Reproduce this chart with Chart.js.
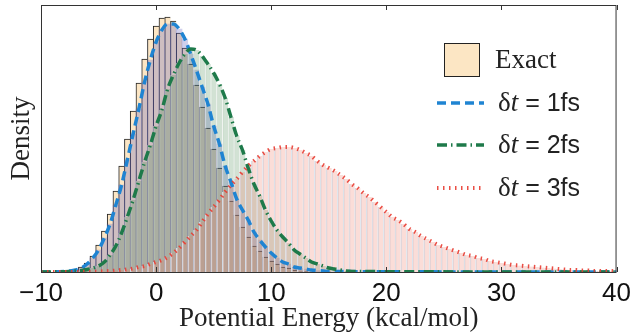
<!DOCTYPE html>
<html>
<head>
<meta charset="utf-8">
<script src="https://cdn.jsdelivr.net/npm/chart.js@4"></script>
<style>
  html, body { margin: 0; padding: 0; background: #fff; }
</style>
</head>
<body>
<canvas id="histChart" width="637" height="334"></canvas>
<script>
// histogram bins are 0.5 kcal/mol wide, heights are in arbitrary density units
const binWidth = 0.5;

const exactStart = -8;
const exactHeights = [0.5, 1, 2, 5, 9, 16, 27, 41, 58, 81, 106, 133, 161, 189, 213, 233, 246, 254, 255, 251,
  239, 224, 208, 187, 165, 144, 123, 104, 86, 71, 57, 45, 35, 26, 21, 15, 11, 8, 5, 4, 2, 1, 0.5];

const dt1Start = -8;
const dt1Heights = [0.5, 1, 2, 4, 8, 14, 22, 34, 48, 67, 87, 112, 138, 163, 190, 212, 230, 242, 248, 248,
  243, 233, 218, 202, 185, 168, 146, 128, 106, 90, 73, 62, 52, 40, 32, 25, 19, 14, 10, 8, 5, 4, 3, 2, 1.5, 1, 0.5];

const dt2Start = -8;
const dt2Heights = [0.3, 0.5, 1, 1.5, 2.5, 4, 6, 10, 17, 26, 39, 55, 72, 91, 110, 127, 146, 162, 183, 197,
  209, 218, 223, 222, 216, 208, 199, 188, 174, 155, 136, 122, 104, 88, 76, 62, 51, 42, 35, 29, 22, 18, 14, 10,
  8, 6, 4, 3, 2, 1, 0.5];

const dt3Start = -6;
const dt3Heights = [0.2, 0.3, 0.5, 0.7, 1, 1.5, 2, 2.7, 3.5, 5, 6, 8, 10, 12, 15, 19, 24, 30, 36, 42,
  50, 58, 65, 72, 80, 87, 93, 100, 106, 111, 116, 120, 123, 124, 125, 125, 124, 122, 119, 116,
  111, 107, 104, 101, 97, 93, 88, 84, 79, 75, 70, 65, 60, 55, 52, 48, 43, 40, 36, 33,
  30, 27, 25, 23, 21, 19, 17, 16, 14, 13, 11, 10, 9, 8, 7, 6.5, 6, 5.5, 5, 4.5,
  4, 3.5, 3, 2.5, 2, 2, 1.5, 1.5, 1, 1, 1, 1, 0.5];

const xTicks = [-10, 0, 10, 20, 30, 40];
const xMin = -10, xMax = 40;

const labels = ['Exact', '1', '2', '3'];

const toPoints = (start, h) => h.map((v, i) => ({ x: start + i * binWidth, y: v }));
// curves run along the axis to both ends of the range
const toCurve = (start, h) => [{ x: xMin, y: 0 }].concat(toPoints(start, h), [{ x: xMax, y: 0 }]);

const blue = '#1f84d2';
const green = '#1e7a4a';
const red = 'rgba(232, 60, 50, 0.9)';

const boxPlugin = {
  id: 'boxPlugin',
  afterDatasetsDraw(chart) {
    const { ctx, chartArea: a, scales } = chart;
    ctx.save();
    ctx.strokeStyle = '#333';
    ctx.lineWidth = 1;
    ctx.strokeRect(a.left + 0.5, a.top + 0.5, a.right - a.left - 1, a.bottom - a.top);
    xTicks.forEach(t => {
      const px = Math.round(scales.x.getPixelForValue(t)) + 0.5;
      ctx.beginPath();
      ctx.moveTo(px, a.top); ctx.lineTo(px, a.top + 5);
      ctx.moveTo(px, a.bottom); ctx.lineTo(px, a.bottom - 5);
      ctx.stroke();
    });
    ctx.restore();
  },
  afterDraw(chart) {
    const ctx = chart.ctx;
    ctx.save();
    // Exact
    ctx.fillStyle = '#fce6c4';
    ctx.fillRect(444, 43, 35, 33);
    ctx.strokeStyle = '#222';
    ctx.lineWidth = 1;
    ctx.strokeRect(444.5, 43.5, 35, 33);
    ctx.fillStyle = '#222';
    ctx.textBaseline = 'middle';
    ctx.font = '27px "Liberation Serif"';
    ctx.fillText(labels[0], 495, 61);

    const rows = [
      { y: 103, color: blue, width: 3.5, dash: [9, 5], txt: labels[1] },
      { y: 145, color: green, width: 3.5, dash: [10, 4, 1.5, 4], txt: labels[2] },
      { y: 188, color: red, width: 4, dash: [1.5, 4.5], txt: labels[3] }
    ];
    rows.forEach(r => {
      ctx.strokeStyle = r.color;
      ctx.lineWidth = r.width;
      ctx.setLineDash(r.dash);
      ctx.lineCap = 'butt';
      ctx.beginPath();
      ctx.moveTo(437, r.y);
      ctx.lineTo(484, r.y);
      ctx.stroke();
      ctx.setLineDash([]);
      let x = 498;
      const ty = r.y + 1;
      ctx.font = '27px "Liberation Serif"';
      ctx.fillText('\u03b4', x, ty);
      x += ctx.measureText('\u03b4').width;
      ctx.font = 'italic 27px "Liberation Serif"';
      ctx.fillText('t', x, ty);
      x += ctx.measureText('t').width;
      ctx.font = '25px "Liberation Sans"';
      ctx.fillText(' = ' + r.txt + 'fs', x, ty);
    });
    ctx.restore();
  }
};

new Chart(document.getElementById('histChart'), {
  type: 'bar',
  data: {
    datasets: [
      {
        type: 'line', label: 'dt3 curve', data: toCurve(dt3Start, dt3Heights),
        borderColor: red, borderWidth: 4, borderDash: [1.5, 4.5], pointRadius: 0,
        cubicInterpolationMode: 'monotone', fill: false, order: 1
      },
      {
        type: 'line', label: 'dt2 curve', data: toCurve(dt2Start, dt2Heights),
        borderColor: green, borderWidth: 3.5, borderDash: [10, 4, 1.5, 4], pointRadius: 0,
        cubicInterpolationMode: 'monotone', fill: false, order: 2
      },
      {
        type: 'line', label: 'dt1 curve', data: toCurve(dt1Start, dt1Heights),
        borderColor: blue, borderWidth: 3.5, borderDash: [9, 5], pointRadius: 0,
        cubicInterpolationMode: 'monotone', fill: false, order: 3
      },
      {
        label: 'dt3', data: toPoints(dt3Start, dt3Heights),
        backgroundColor: 'rgba(240, 120, 100, 0.25)',
        borderColor: 'rgba(215, 228, 238, 0.9)', borderWidth: { top: 0, left: 1, right: 0, bottom: 0 },
        order: 7
      },
      {
        label: 'dt2', data: toPoints(dt2Start, dt2Heights),
        backgroundColor: 'rgba(30, 110, 40, 0.2)',
        borderColor: 'rgba(235, 240, 235, 0.5)', borderWidth: { top: 0, left: 1, right: 0, bottom: 0 },
        order: 8
      },
      {
        label: 'dt1', data: toPoints(dt1Start, dt1Heights),
        backgroundColor: 'rgba(85, 85, 185, 0.28)',
        borderWidth: 0,
        order: 9
      },
      {
        label: 'Exact', data: toPoints(exactStart, exactHeights),
        backgroundColor: '#fce6c4',
        borderColor: '#222', borderWidth: { top: 1, left: 1, right: 0, bottom: 0 },
        order: 10
      }
    ]
  },
  options: {
    responsive: false,
    animation: false,
    layout: { padding: { top: 5, right: 17, left: 0, bottom: 0 } },
    datasets: {
      bar: { grouped: false, barPercentage: 1, categoryPercentage: 1 }
    },
    plugins: {
      legend: { display: false },
      tooltip: { enabled: false }
    },
    scales: {
      x: {
        type: 'linear',
        min: xMin,
        max: xMax,
        offset: false,
        grid: { display: false, drawTicks: false },
        border: { display: false },
        afterBuildTicks: s => { s.ticks = xTicks.map(v => ({ value: v })); },
        afterFit: s => { s.height = 62; },
        ticks: {
          padding: 6,
          color: '#111',
          font: { family: 'Liberation Sans', size: 26 },
          callback: v => v < 0 ? '\u2212' + Math.abs(v) : String(v)
        },
        title: {
          display: true,
          text: 'Potential Energy (kcal/mol)',
          color: '#222',
          font: { family: 'Liberation Serif', size: 27 },
          padding: { top: 0, bottom: -1 }
        }
      },
      y: {
        min: 0,
        max: 267,
        grid: { display: false, drawTicks: false },
        border: { display: false },
        ticks: { display: false },
        afterFit: s => { s.width = 41; },
        title: {
          display: true,
          text: 'Density',
          color: '#222',
          font: { family: 'Liberation Serif', size: 27 },
          padding: { top: 6, bottom: 0 }
        }
      }
    }
  },
  plugins: [boxPlugin]
});
</script>
</body>
</html>
